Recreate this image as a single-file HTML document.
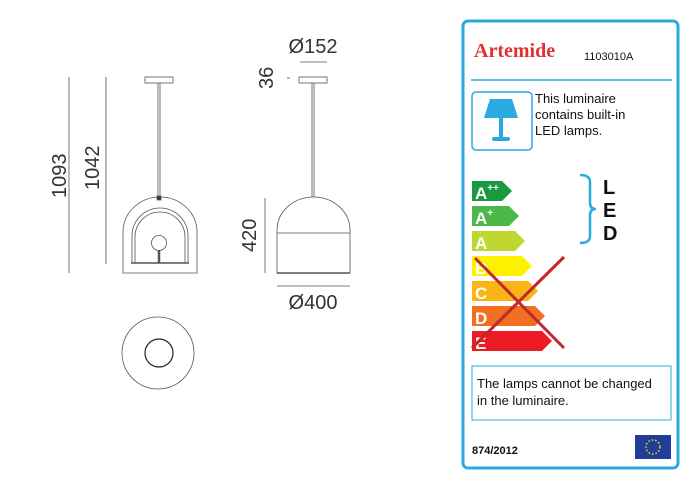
<!DOCTYPE html>
<html><head><meta charset="utf-8"><style>
body{margin:0;background:#fff;width:700px;height:482px;overflow:hidden}
svg{display:block}
</style></head><body>
<svg width="700" height="482" viewBox="0 0 700 482" xmlns="http://www.w3.org/2000/svg" font-family="Liberation Sans, sans-serif">
<g stroke="#555" stroke-width="0.8" fill="none">
<line x1="69" y1="77" x2="69" y2="273"/>
<line x1="106" y1="77" x2="106" y2="264"/>
<rect x="145" y="77" width="28" height="6"/>
<line x1="158" y1="83" x2="158" y2="198"/>
<line x1="160" y1="83" x2="160" y2="198"/>
<path d="M123 273 V232 A37 35 0 0 1 197 232 V273 Z"/>
<path d="M132 263 V236 A28 28 0 0 1 188 236 V263"/>
<path d="M135 263 V237 A25 25 0 0 1 185 237 V263"/>
<line x1="131" y1="263" x2="189" y2="263" stroke-width="1.5"/>
<circle cx="159" cy="243" r="7.5"/>
<line x1="159" y1="250" x2="159" y2="263" stroke-width="2.5"/>
<rect x="157" y="196" width="4" height="4" fill="#333"/>
<circle cx="158" cy="353" r="36"/>
<circle cx="159" cy="353" r="14" stroke="#222" stroke-width="1.2"/>
<line x1="300" y1="62" x2="327" y2="62"/>
<line x1="287" y1="78" x2="290" y2="78"/>
<rect x="299" y="77" width="28" height="6"/>
<line x1="312" y1="83" x2="312" y2="197"/>
<line x1="314" y1="83" x2="314" y2="197"/>
<path d="M277 273 V230 A36.5 33 0 0 1 350 230 V273 Z"/>
<line x1="277" y1="233" x2="350" y2="233"/>
<line x1="277" y1="273" x2="350" y2="273" stroke-width="1.5"/>
<line x1="265" y1="198" x2="265" y2="273"/>
<line x1="277" y1="286" x2="350" y2="286"/>
</g>
<g fill="#333" font-size="20">
<text transform="translate(66,198) rotate(-90)">1093</text>
<text transform="translate(99,190) rotate(-90)">1042</text>
<text transform="translate(273,89) rotate(-90)">36</text>
<text transform="translate(256,252) rotate(-90)">420</text>
<text x="313" y="53" text-anchor="middle">Ø152</text>
<text x="313" y="309" text-anchor="middle">Ø400</text>
</g>
<rect x="463" y="21" width="215" height="447" rx="5" fill="none" stroke="#29abe2" stroke-width="3"/>
<text x="474" y="57" font-family="Liberation Serif, serif" font-weight="bold" font-size="20" fill="#e0312f">Artemide</text>
<text x="584" y="60" font-size="11" fill="#111">1103010A</text>
<line x1="471" y1="80" x2="672" y2="80" stroke="#29abe2" stroke-width="1.5"/>
<rect x="472" y="92" width="60" height="58" rx="4" fill="none" stroke="#29abe2" stroke-width="1.5"/>
<path d="M490 99 H512 L518 118 H484 Z" fill="#29abe2"/>
<rect x="499" y="118" width="4" height="20" fill="#29abe2"/>
<rect x="492" y="137" width="18" height="4" rx="2" fill="#29abe2"/>
<g font-size="13" fill="#111"><text x="535" y="103">This luminaire</text><text x="535" y="119">contains built-in</text><text x="535" y="135">LED lamps.</text></g>
<path d="M580 175 Q590 175 590 182 V203 Q590 209 596 209 Q590 209 590 215 V236 Q590 243 580 243" fill="none" stroke="#29abe2" stroke-width="2.5"/>
<g font-size="20" font-weight="bold" fill="#111"><text x="603" y="194">L</text><text x="603" y="217">E</text><text x="603" y="240">D</text></g>
<g font-weight="bold" fill="#fff" font-size="17">
<path d="M472 181 H502 L512 191 L502 201 H472 Z" fill="#1a9a3e"/><text x="475" y="199">A<tspan font-size="10" dy="-8">++</tspan></text>
<path d="M472 206 H509 L519 216 L509 226 H472 Z" fill="#4db848"/><text x="475" y="224">A<tspan font-size="10" dy="-8">+</tspan></text>
<path d="M472 231 H515 L525 241 L515 251 H472 Z" fill="#bfd730"/><text x="475" y="249">A</text>
<path d="M472 256 H522 L532 266 L522 276 H472 Z" fill="#fff200"/><text x="475" y="274">B</text>
<path d="M472 281 H528 L538 291 L528 301 H472 Z" fill="#fbb416"/><text x="475" y="299">C</text>
<path d="M472 306 H535 L545 316 L535 326 H472 Z" fill="#f26f21"/><text x="475" y="324">D</text>
<path d="M472 331 H542 L552 341 L542 351 H472 Z" fill="#ed1c24"/><text x="475" y="349">E</text>
</g>
<g stroke="#c1272d" stroke-width="3"><line x1="472" y1="348" x2="564" y2="257"/><line x1="475" y1="258" x2="564" y2="348"/></g>
<rect x="472" y="366" width="199" height="54" fill="none" stroke="#29abe2" stroke-width="1"/>
<g font-size="13" fill="#111"><text x="477" y="388">The lamps cannot be changed</text><text x="477" y="405">in the luminaire.</text></g>
<text x="472" y="454" font-size="11" font-weight="bold" fill="#111">874/2012</text>
<rect x="635" y="435" width="36" height="24" fill="#1f3e99"/>
<circle cx="653" cy="447" r="7" fill="none" stroke="#ffdd00" stroke-width="1.5" stroke-dasharray="1.5 2"/>
</svg>
</body></html>
